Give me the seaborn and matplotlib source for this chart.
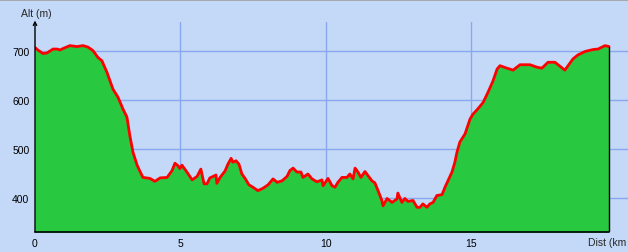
import matplotlib
matplotlib.use("Agg")
import matplotlib.pyplot as plt
import seaborn as sns
import pandas as pd

dist_km = [0.00, 0.10, 0.27, 0.41, 0.62, 0.76, 0.86, 0.96, 1.20, 1.44, 1.65, 1.82, 1.99,
           2.16, 2.30, 2.47, 2.68, 2.85, 3.02, 3.16, 3.26, 3.37, 3.51, 3.61, 3.71, 3.95,
           4.12, 4.30, 4.54, 4.71, 4.81, 4.91, 4.98, 5.05, 5.22, 5.40, 5.57, 5.70, 5.81,
           5.91, 6.01, 6.12, 6.22, 6.25, 6.36, 6.53, 6.63, 6.74, 6.80, 6.91, 7.01, 7.11,
           7.22, 7.35, 7.49, 7.66, 7.84, 8.01, 8.18, 8.32, 8.49, 8.66, 8.76, 8.87, 9.00,
           9.14, 9.21, 9.38, 9.52, 9.69, 9.86, 9.90, 10.07, 10.21, 10.31, 10.41, 10.55,
           10.72, 10.82, 10.93, 11.00, 11.10, 11.20, 11.34, 11.44, 11.58, 11.68, 11.79,
           11.92, 11.96, 12.10, 12.27, 12.44, 12.47, 12.61, 12.71, 12.82, 12.99, 13.13,
           13.23, 13.33, 13.47, 13.57, 13.68, 13.81, 13.99, 14.09, 14.19, 14.33, 14.43,
           14.50, 14.60, 14.78, 14.95, 15.05, 15.22, 15.40, 15.57, 15.74, 15.88, 15.98,
           16.22, 16.43, 16.67, 17.01, 17.25, 17.42, 17.63, 17.87, 18.04, 18.21, 18.32,
           18.49, 18.66, 18.90, 19.18, 19.35, 19.59, 19.73]
alt_m = [707, 702, 695, 696, 704, 704, 702, 705, 711, 709, 711, 708, 701,
         687, 680, 657, 622, 606, 582, 565, 527, 493, 467, 454, 442, 440,
         434, 441, 442, 456, 471, 466, 460, 467, 453, 437, 444, 459, 429,
         429, 441, 444, 447, 430, 442, 455, 469, 481, 473, 476, 469, 449,
         440, 427, 422, 415, 420, 427, 439, 432, 435, 444, 456, 461, 453,
         453, 442, 449, 439, 433, 437, 425, 440, 425, 422, 432, 442,
         442, 449, 439, 461, 453, 442, 454, 446, 435, 431, 415,
         395, 384, 399, 391, 398, 410, 391, 399, 393, 395, 381,
         381, 388, 381, 388, 391, 405, 407, 422, 435, 453, 473,
         493, 514, 531, 561, 571, 582, 595, 616, 639, 663, 670,
         665, 661, 672, 672, 667, 665, 677, 677, 669, 661, 670,
         684, 692, 699, 703, 704, 711, 709]

x_ticks = [0, 5, 10, 15]
y_ticks = [400, 500, 600, 700]
x_label = "Dist (km"
y_label = "Alt (m)"

BG = "#c4d8f7"
GRID = "#88a8f0"
sns.set_style("white", {"axes.facecolor": BG, "figure.facecolor": BG})
plt.rcParams["font.family"] = ["Liberation Sans", "DejaVu Sans"]

df = pd.DataFrame({"dist": dist_km, "alt": alt_m})

fig = plt.figure(figsize=(6.28, 2.53), dpi=100)
ax = fig.add_axes([35 / 628, 20 / 253, 1 - 35 / 628, 210 / 253])
ymin, ymax = 330.6, 759.2
ax.set_xlim(0, 20.38)
ax.set_ylim(ymin, ymax)

for xv in x_ticks[1:]:
    ax.axvline(xv, color=GRID, lw=1, zorder=1)
for yv in y_ticks:
    ax.axhline(yv, color=GRID, lw=1, zorder=1)

ax.fill_between(df["dist"], df["alt"], ymin, color="#28c840", zorder=2, lw=0)
sns.lineplot(data=df, x="dist", y="alt", color="#ff0000", lw=2.0, ax=ax, zorder=3,
             sort=False)
ax.plot([dist_km[-1], dist_km[-1]], [ymin, alt_m[-1]], color="black", lw=1, zorder=3)

for s in ax.spines.values():
    s.set_visible(False)
ax.plot([0, dist_km[-1]], [ymin, ymin], color="black", lw=1.2, zorder=4, clip_on=False)
ax.annotate("", xy=(0, ymax + 3), xytext=(0, ymin),
            arrowprops=dict(arrowstyle="->", color="black", lw=1, shrinkA=0, shrinkB=0,
                            mutation_scale=6), zorder=4, annotation_clip=False)

ax.set_xticks(x_ticks)
ax.set_yticks(y_ticks)
ax.set_xticklabels([str(t) for t in x_ticks])
ax.set_yticklabels([str(t) for t in y_ticks])
ax.tick_params(axis="both", length=0, labelsize=7.5, colors="black")
ax.tick_params(axis="x", pad=4)
ax.tick_params(axis="y", pad=4)
ax.set_xlabel("")
ax.set_ylabel("")
fig.text(21 / 628, 1 - 14 / 253, y_label, fontsize=7.5, ha="left", va="center")
fig.text(588 / 628, 1 - 243 / 253, x_label, fontsize=7.5, ha="left", va="center")
fig.add_artist(plt.Line2D([0, 1], [1 - 0.8 / 253, 1 - 0.8 / 253], color="#a0a0a0", lw=1.2))

fig.savefig("out.png", dpi=100, facecolor=BG)
